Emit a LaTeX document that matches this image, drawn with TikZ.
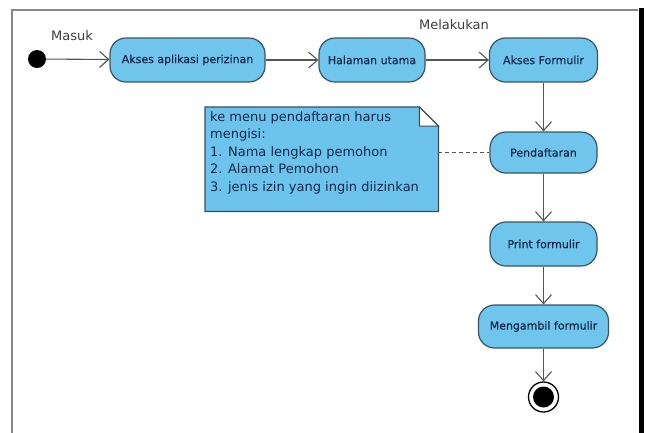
\documentclass[tikz,border=0pt]{standalone}
\usepackage{fontspec}
\setmainfont{DejaVu Sans}
\newfontfamily\actionfont[FakeBold=0.5]{DejaVu Sans}
\usetikzlibrary{arrows.meta,calc}

\definecolor{actfill}{RGB}{112,197,236}
\definecolor{actdraw}{RGB}{55,85,105}
\definecolor{acttext}{RGB}{20,40,75}
\definecolor{notefill}{RGB}{108,195,235}
\definecolor{notedraw}{RGB}{60,75,90}
\definecolor{wire}{RGB}{85,85,85}
\definecolor{framegray}{RGB}{135,135,135}
\definecolor{labeltext}{RGB}{60,60,60}

\begin{document}
\begin{tikzpicture}[x=1pt,y=1pt,
  action/.style={draw=actdraw, line width=1.2pt, fill=actfill,
    rounded corners=16pt, minimum height=44pt, text=acttext,
    font=\actionfont\fontsize{11}{13}\selectfont, inner sep=0pt},
  flow/.style={draw=wire, line width=1.1pt,
    -{Straight Barb[length=9pt,width=16pt,line width=1.1pt]}},
  flowlabel/.style={font=\fontsize{13}{15}\selectfont, text=labeltext},
  notetext/.style={font=\fontsize{13}{17.5}\selectfont, text=acttext,
    align=left, inner sep=0pt}]
\useasboundingbox (0,0) rectangle (651,-432);

% diagram frame
\draw[framegray, line width=2pt] (12,-440) -- (12,-10) -- (638,-10);
\draw[black, line width=5pt] (641,-8) -- (641,-440);

% initial and final nodes
\node[circle, fill=black, minimum size=18pt, inner sep=0pt] (start) at (37,-59) {};
\node[circle, draw=black, line width=1.3pt, fill=white, minimum size=30pt, inner sep=0pt] (end) at (543.5,-397) {};
\node[circle, fill=black, minimum size=21pt, inner sep=0pt] (endcore) at (end.center) {};

% actions
\node[action, minimum width=155pt] (a1) at (187.5,-60) {Akses aplikasi perizinan};
\node[action, minimum width=106pt] (a2) at (372,-60) {Halaman utama};
\node[action, minimum width=108pt] (a3) at (543.5,-60) {Akses Formulir};
\node[action, minimum width=107pt, minimum height=41pt] (a4) at (543.5,-152.5) {Pendaftaran};
\node[action, minimum width=107pt] (a5) at (543.5,-244) {Print formulir};
\node[action, minimum width=130pt, minimum height=43pt] (a6) at (543.5,-326.5) {Mengambil formulir};

% flow labels
\node[flowlabel] (lmasuk) at (72,-36) {Masuk};
\node[flowlabel] (lmelakukan) at (454,-25) {Melakukan};

% control flows
\draw[flow] (start) -- (a1);
\draw[flow] (a1) -- (a2);
\draw[flow] (a2) -- (a3);
\draw[flow] (a3) -- (a4);
\draw[flow] (a4) -- (a5);
\draw[flow] (a5) -- (a6);
\draw[flow] (a6) -- (end);

% note with folded corner
\node[minimum width=233pt, minimum height=104pt, inner sep=0pt, anchor=north west] (note) at (205,-107) {};
\draw[draw=notedraw, fill=notefill, line width=1.2pt]
  (note.north west) -- ($(note.north east)+(-19,0)$) -- ($(note.north east)+(0,-19)$)
  -- (note.south east) -- (note.south west) -- cycle;
\draw[draw=notedraw, fill=white, line width=1pt]
  ($(note.north east)+(-19,0)$) -- ($(note.north east)+(-19,-19)$)
  -- ($(note.north east)+(0,-19)$) -- cycle;
\node[notetext, anchor=north west] (notebody) at ($(note.north west)+(5,-4)$)
  {ke menu pendaftaran harus\\mengisi:\\1. Nama lengkap pemohon\\2. Alamat Pemohon\\3. jenis izin yang ingin diizinkan};
\draw[wire, line width=1pt, dash pattern=on 4pt off 3pt] (note.east |- a4.west) -- (a4.west);
\end{tikzpicture}
\end{document}
